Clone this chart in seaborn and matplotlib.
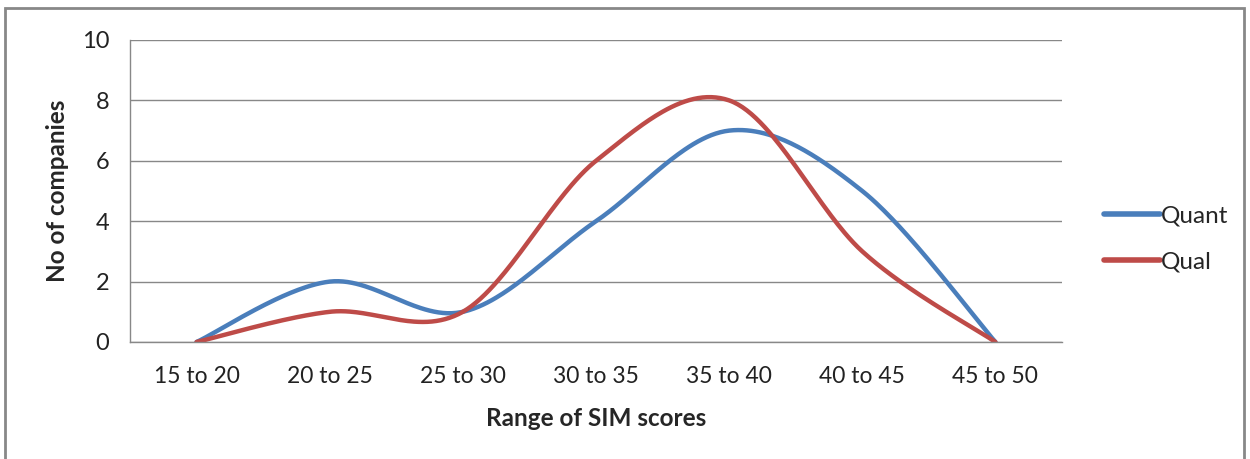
import numpy as np
import pandas as pd
import seaborn as sns
import matplotlib
matplotlib.use("Agg")
import matplotlib.pyplot as plt
from matplotlib.patches import Rectangle

categories = ["15 to 20", "20 to 25", "25 to 30", "30 to 35", "35 to 40", "40 to 45", "45 to 50"]
quant = [0, 2, 1, 4, 7, 5, 0]
qual = [0, 1, 1, 6, 8, 3, 0]
series_names = ["Quant", "Qual"]
colors = ["#4A7EBB", "#BE4B48"]

sns.set_style("white")
plt.rcParams["font.family"] = ["Lato", "DejaVu Sans"]


def smooth(y, n=60):
    """Excel-style smoothed line (Catmull-Rom / Bezier) through the data points."""
    y = np.asarray(y, dtype=float)
    x = np.arange(len(y), dtype=float)
    xs, ys = [], []
    for i in range(len(y) - 1):
        y0 = y[i - 1] if i > 0 else y[i]
        y3 = y[i + 2] if i + 2 < len(y) else y[i + 1]
        x0 = x[i - 1] if i > 0 else x[i]
        x3 = x[i + 2] if i + 2 < len(y) else x[i + 1]
        p0 = np.array([x[i], y[i]])
        p3 = np.array([x[i + 1], y[i + 1]])
        p1 = p0 + (np.array([x[i + 1], y[i + 1]]) - np.array([x0, y0])) / 6
        p2 = p3 - (np.array([x3, y3]) - np.array([x[i], y[i]])) / 6
        t = np.linspace(0, 1, n, endpoint=(i == len(y) - 2))[:, None]
        pts = ((1 - t) ** 3) * p0 + 3 * ((1 - t) ** 2) * t * p1 + 3 * (1 - t) * t ** 2 * p2 + t ** 3 * p3
        xs.extend(pts[:, 0])
        ys.extend(pts[:, 1])
    return np.array(xs), np.array(ys)


frames = []
for name, vals in zip(series_names, [quant, qual]):
    sx, sy = smooth(vals)
    frames.append(pd.DataFrame({"x": sx, "y": sy, "series": name}))
df = pd.concat(frames, ignore_index=True)

fig = plt.figure(figsize=(12.5, 4.59), dpi=100)
ax = fig.add_axes([130 / 1250, 1 - 342 / 459, (1062 - 130) / 1250, (342 - 40) / 459])

sns.lineplot(data=df, x="x", y="y", hue="series", palette=colors, sort=False,
             linewidth=3.2, ax=ax, legend=True)

ax.set_xlim(-0.5, len(categories) - 0.5)
ax.set_ylim(0, 10)
ax.set_yticks([0, 2, 4, 6, 8, 10])
ax.set_xticks(np.arange(len(categories)))
ax.set_xticklabels(categories)
ax.set_xticks(np.arange(-0.5, len(categories), 1), minor=True)
ax.tick_params(axis="x", which="major", length=0, labelsize=16.5, pad=17, colors="#222222")
ax.tick_params(axis="x", which="minor", length=7, width=1, color="#888888", direction="out")
ax.tick_params(axis="y", which="major", length=7, width=1, color="#888888", direction="out",
               labelsize=17, pad=8, labelcolor="#222222")
ax.yaxis.grid(True, color="#888888", linewidth=1)
ax.set_axisbelow(True)
for s in ["top", "right"]:
    ax.spines[s].set_visible(False)
for s in ["left", "bottom"]:
    ax.spines[s].set_color("#888888")
    ax.spines[s].set_linewidth(1)

ax.set_xlabel("Range of SIM scores", fontsize=17.5, fontweight="bold", labelpad=15)
ax.set_ylabel("No of companies", fontsize=17.5, fontweight="bold", labelpad=9)

handles, labels = ax.get_legend_handles_labels()
for h in handles:
    h.set_solid_capstyle("round")
    h.set_linewidth(4)
leg = ax.legend(handles, labels, loc="center left", bbox_to_anchor=(1.045, 0.341),
                frameon=False, fontsize=17.5, handlelength=2.3, handletextpad=0.05,
                labelspacing=1.05, borderaxespad=0, borderpad=0)

fig.patches.append(Rectangle((5 / 1250, -0.1), 1239 / 1250, 1.1 - 8 / 459,
                             transform=fig.transFigure, fill=False,
                             edgecolor="#888888", linewidth=2))

fig.savefig("out.png", dpi=100)
